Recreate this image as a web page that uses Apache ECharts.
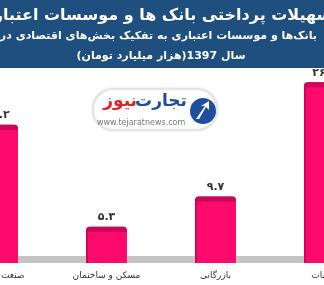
<!DOCTYPE html>
<html>
<head>
<meta charset="utf-8">
<script src="https://cdn.jsdelivr.net/npm/echarts@6/dist/echarts.min.js"></script>
<style>
  html, body { margin: 0; padding: 0; background: #fff; }
  #chart { width: 324px; height: 285px; }
</style>
</head>
<body>
<div id="chart"></div>
<script>
// داده ها
var categories = ['صنعت و معدن', 'مسکن و ساختمان', 'بازرگانی', 'خدمات'];
var values = [20.2, 5.3, 9.7, 26.4];
var titleText = 'تسهیلات پرداختی بانک ها و موسسات اعتباری';
var subText = 'بانک‌ها و موسسات اعتباری به تفکیک بخش‌های اقتصادی در';
var unitText = 'سال 1397(هزار میلیارد تومان)';

var font = 'DejaVu Sans';

function faNum(v) {
  return String(v).replace(/[0-9]/g, function (d) { return '۰۱۲۳۴۵۶۷۸۹'[d]; });
}

var chart = echarts.init(document.getElementById('chart'));

chart.setOption({
  backgroundColor: '#fff',
  animation: false,
  grid: { left: 0, right: 0, top: 57.5, bottom: 22 },
  xAxis: {
    type: 'value',
    // first and last bars are cut by the frame
    min: 2.5 / 109,
    max: 326.5 / 109,
    offset: -3.5,
    axisLine: { show: true, onZero: false, lineStyle: { color: '#c4c4c4', width: 7 } },
    axisTick: { show: false },
    axisLabel: { show: false },
    splitLine: { show: false }
  },
  yAxis: {
    type: 'value',
    min: 0,
    max: 30,
    show: false,
    splitLine: { show: false }
  },
  series: [{
    type: 'custom',
    data: values.map(function (v, i) { return [i, v]; }),
    z: 5,
    clip: false,
    renderItem: function (params, api) {
      var top = api.coord([api.value(0), api.value(1)]);
      var base = api.coord([api.value(0), 0]);
      var w = 41;
      var x = top[0] - w / 2;
      var h = base[1] - top[1];
      return {
        type: 'group',
        children: [
          {
            type: 'rect',
            shape: { x: x, y: top[1], width: w, height: h, r: [4, 4, 0, 0] },
            style: { fill: '#fe0a6c' },
            textContent: {
              style: {
                text: faNum(api.value(1)),
                fill: '#333',
                font: 'bold 11px ' + font
              }
            },
            textConfig: { position: 'top', distance: 4 }
          },
          {
            type: 'rect',
            shape: { x: x, y: top[1], width: w, height: 5, r: [4, 4, 0, 0] },
            style: { fill: '#c8065a' }
          },
          {
            type: 'rect',
            shape: { x: x, y: top[1] + 4, width: 2, height: h - 4 },
            style: { fill: '#d0045a' }
          },
          {
            type: 'text',
            x: top[0],
            y: base[1] + 13,
            style: {
              text: categories[params.dataIndex],
              fill: '#333',
              font: '9px ' + font,
              align: 'center',
              verticalAlign: 'middle'
            }
          }
        ]
      };
    }
  }],
  graphic: [
    { type: 'rect', left: 0, top: 0, shape: { width: 324, height: 68 }, style: { fill: '#1f4f7e' }, z: 10 },
    { type: 'text', x: 159, y: 16, z: 11,
      style: { text: titleText, fill: '#fff', font: 'bold 16px ' + font, align: 'center', verticalAlign: 'middle' } },
    { type: 'text', x: 317, y: 36, z: 11,
      style: { text: subText, fill: '#fff', font: 'bold 11px ' + font, align: 'right', verticalAlign: 'middle' } },
    { type: 'text', x: 161, y: 56, z: 11,
      style: { text: unitText, fill: '#fff', font: 'bold 11px ' + font, align: 'center', verticalAlign: 'middle' } },
    // watermark logo
    { type: 'rect', z: 3, shape: { x: 93, y: 89, width: 124, height: 41, r: 20 },
      style: { fill: '#fff', stroke: '#e2e2e2', lineWidth: 1.5, shadowBlur: 3, shadowColor: 'rgba(0,0,0,0.12)' } },
    { type: 'circle', z: 4, shape: { cx: 203, cy: 111, r: 13 }, style: { fill: '#1d4f9e' } },
    { type: 'polygon', z: 4, shape: { points: [[196, 119], [205, 106], [201, 106], [209, 101], [209, 110], [206, 107], [199, 119]] },
      style: { fill: '#fff' } },
    { type: 'text', z: 4, x: 187, y: 102,
      style: { text: 'تجارت', fill: '#1d4f9e', font: 'bold 17px ' + font, align: 'right', verticalAlign: 'middle' } },
    { type: 'text', z: 4, x: 137, y: 102,
      style: { text: 'نیوز', fill: '#e2222b', font: 'bold 17px ' + font, align: 'right', verticalAlign: 'middle' } },
    { type: 'text', z: 4, x: 97, y: 123,
      style: { text: 'www.tejaratnews.com', fill: '#777', font: '8px ' + font, align: 'left', verticalAlign: 'middle' } }
  ]
});
</script>
</body>
</html>
